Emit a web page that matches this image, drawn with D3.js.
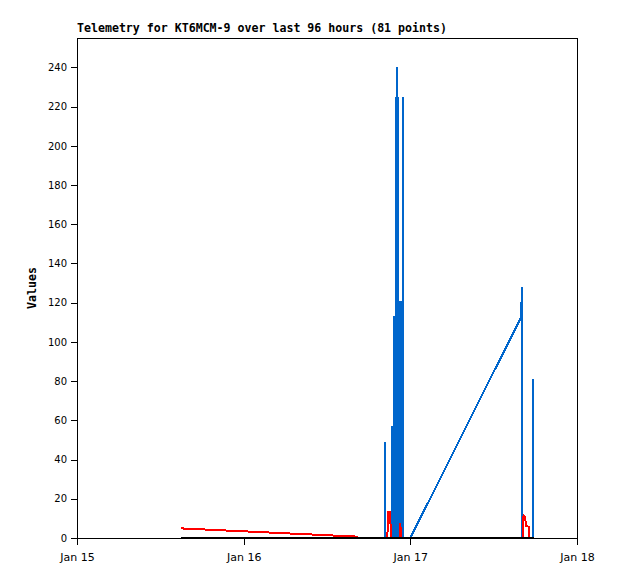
<!DOCTYPE html>
<html>
<head>
<meta charset="utf-8">
<script src="https://cdn.jsdelivr.net/npm/d3@7"></script>
<style>
  html, body { margin: 0; padding: 0; background: #fff; }
  svg { display: block; }
</style>
</head>
<body>
<svg id="chart" width="618" height="579"></svg>
<script>
// ---- DATA (hours after Jan 15 00:00, value) ----
const titleText = "Telemetry for KT6MCM-9 over last 96 hours (81 points)";
const yLabel = "Values";
const yTicks = [0, 20, 40, 60, 80, 100, 120, 140, 160, 180, 200, 220, 240];
const xTickDays = [15, 16, 17, 18];

const blueSeries = [
  [15.0, 0], [40.3, 0],
  [44.32, 0], [44.32, 49], [44.32, 0],
  [45.40, 0], [45.40, 57], [45.40, 0],
  [45.50, 0], [45.50, 57], [45.50, 0],
  [45.66, 0], [45.66, 113], [45.66, 0],
  [45.88, 0], [45.88, 225], [45.88, 0],
  [46.04, 0], [46.04, 225], [46.04, 0],
  [46.14, 0], [46.14, 240], [46.14, 0],
  [46.22, 0], [46.22, 225], [46.22, 0],
  [46.34, 0], [46.34, 121], [46.34, 0],
  [46.50, 0], [46.50, 121], [46.50, 0],
  [46.66, 0], [46.66, 121], [46.66, 0],
  [46.88, 0], [46.88, 225], [46.88, 0],
  [47.0, 0], [48.0, 0],
  [63.94, 112.5], [64.08, 128], [64.08, 0],
  [65.62, 0], [65.62, 81], [65.62, 0]
];
const redSeries = [
  [15.0, 4.9], [40.35, 0.7], [40.45, 0], [44.65, 0], [44.75, 5], [44.85, 13.4],
  [45.1, 13.4], [45.2, 0], [46.45, 0], [46.55, 7.5], [46.62, 4], [46.7, 0],
  [64.15, 0], [64.30, 11.4], [64.49, 10.8], [64.56, 9], [64.70, 6],
  [65.02, 5.8], [65.09, 0], [65.74, 0]
];
const blackSeries = [[15.0, 0], [65.74, 0]];

// ---- CHART ----
(function () {
  const base = new Date(2024, 0, 15, 0, 0, 0);
  const toDate = h => new Date(base.getTime() + h * 3600e3);

  const svg = d3.select("#chart");
  const mLeft = 77, mRight = 577, mTop = 38, mBottom = 538;

  const x = d3.scaleTime()
    .domain([new Date(2024, 0, 15), new Date(2024, 0, 18)])
    .range([mLeft, mRight]);
  const y = d3.scaleLinear().domain([0, 255]).range([mBottom, mTop]);

  // title
  svg.append("text")
    .attr("x", mLeft).attr("y", 32)
    .attr("font-family", "'DejaVu Sans Mono', monospace")
    .attr("font-weight", "bold")
    .attr("font-size", "11.6px")
    .attr("fill", "#000")
    .text(titleText);

  // y label
  svg.append("text")
    .attr("transform", `translate(36,${(mTop + mBottom) / 2}) rotate(-90)`)
    .attr("text-anchor", "middle")
    .attr("font-family", "'DejaVu Sans Mono', monospace")
    .attr("font-weight", "bold")
    .attr("font-size", "11.6px")
    .attr("fill", "#000")
    .text(yLabel);

  // frame
  svg.append("rect")
    .attr("x", mLeft + 0.5).attr("y", mTop + 0.5)
    .attr("width", mRight - mLeft).attr("height", mBottom - mTop)
    .attr("fill", "none").attr("stroke", "#000").attr("stroke-width", 1)
    .attr("shape-rendering", "crispEdges");

  // y axis
  const yAxis = svg.append("g")
    .attr("transform", `translate(${mLeft},0)`)
    .call(d3.axisLeft(y).tickValues(yTicks).tickSize(6).tickPadding(4));
  yAxis.select(".domain").remove();

  // x axis
  const xAxis = svg.append("g")
    .attr("transform", `translate(0,${mBottom})`)
    .call(d3.axisBottom(x)
      .tickValues(xTickDays.map(d => new Date(2024, 0, d)))
      .tickFormat(d3.timeFormat("%b %d"))
      .tickSize(7).tickPadding(8));
  xAxis.select(".domain").remove();

  svg.selectAll(".tick line").attr("stroke", "#000").attr("shape-rendering", "crispEdges");
  svg.selectAll(".tick text")
    .attr("font-family", "'DejaVu Sans', sans-serif")
    .attr("font-size", "10px")
    .attr("fill", "#000");
  xAxis.selectAll(".tick text").attr("font-size", "11px");

  // series
  const line = d3.line().x(d => x(toDate(d[0]))).y(d => y(d[1]));
  const series = [
    { data: blueSeries, color: "#0066cc" },
    { data: redSeries, color: "#ff0000" },
    { data: blackSeries, color: "#000000" }
  ];
  svg.append("g").selectAll("path")
    .data(series)
    .join("path")
    .attr("d", s => line(s.data))
    .attr("fill", "none")
    .attr("stroke", s => s.color)
    .attr("stroke-width", 2)
    .attr("stroke-linejoin", "miter")
    .attr("shape-rendering", "crispEdges");
})();
</script>
</body>
</html>
